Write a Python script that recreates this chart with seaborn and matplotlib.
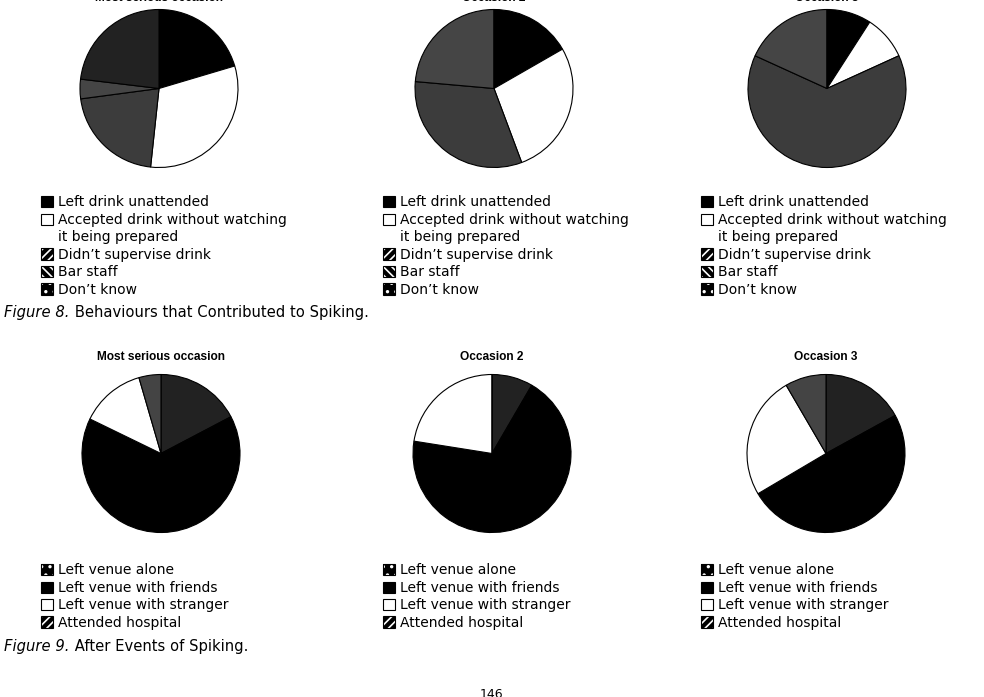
import numpy as np
import seaborn as sns
import matplotlib
matplotlib.use("Agg")
import matplotlib.pyplot as plt
from matplotlib.patches import Patch

sns.set_theme(style = "white")
plt.rcParams["font.family"] = ["DejaVu Sans"]
plt.rcParams["text.color"] = "black"
plt.rcParams["hatch.linewidth"] = 1.2

W, H = 984, 697

# Figure 8: behaviours that contributed to spiking (percent of cases)
contrib_labels = ["Left drink unattended",
                  "Accepted drink without watching\nit being prepared",
                  "Didn\u2019t supervise drink", "Bar staff", "Don\u2019t know"]
contrib_most_serious = [20.4, 31.3, 21.2, 4.0, 23.1]
contrib_occasion2 = [16.7, 27.6, 32.1, 23.6, 0.0]
contrib_occasion3 = [9.1, 9.1, 63.6, 18.2, 0.0]

# Figure 9: after events of spiking (percent of cases)
after_labels = ["Left venue alone", "Left venue with friends",
                "Left venue with stranger", "Attended hospital"]
after_most_serious = [17.3, 64.9, 13.3, 4.5]
after_occasion2 = [8.4, 69.1, 22.5, 0.0]
after_occasion3 = [17.0, 49.5, 25.1, 8.4]

titles = ["Most serious occasion", "Occasion 2", "Occasion 3"]

contrib_colors = ["#000000", "#ffffff", "#3c3c3c", "#454545", "#222222"]
after_colors = ["#222222", "#000000", "#ffffff", "#444444"]

# legend swatches: (hatch, face)
contrib_swatches = [(None, "black"), (None, "white"), ("////", "black"),
                    ("\\\\\\\\", "black"), ("..", "black")]
after_swatches = [("..", "black"), (None, "black"), (None, "white"), ("////", "black")]

fig = plt.figure(figsize = (W / 100, H / 100), dpi = 100)


def pie_axes(cx, cy, r):
    return fig.add_axes([(cx - r) / W, 1 - (cy + r) / H, 2 * r / W, 2 * r / H])


def swatch(hatch, face):
    if hatch is None:
        return Patch(facecolor = face, edgecolor = "black", linewidth = 0.8)
    return (Patch(facecolor = face, edgecolor = "white", hatch = hatch, linewidth = 0),
            Patch(facecolor = "none", edgecolor = "black", linewidth = 0.8))


def legend_entries(labels, swatches):
    # wrapped labels: swatch sits on the first line only
    handles, texts = [], []
    for lab, (h, f) in zip(labels, swatches):
        lines = lab.split("\n")
        handles.append(swatch(h, f))
        texts.append(lines[0])
        for extra in lines[1:]:
            handles.append(Patch(facecolor = "none", edgecolor = "none"))
            texts.append(extra)
    return handles, texts


def draw_row(values_list, colors, centers, cy, title_off, labels, swatches, legend_x, legend_y):
    r = 79
    for vals, title, cx in zip(values_list, titles, centers):
        ax = pie_axes(cx, cy, r)
        ax.pie(vals, colors = colors, startangle = 90, counterclock = False,
               radius = 1, wedgeprops = dict(edgecolor = "black", linewidth = 0.8, clip_on = False))
        ax.set_xlim(-1, 1)
        ax.set_ylim(-1, 1)
        ax.set_axis_off()
        ax.text(0, title_off, title, ha = "center", va = "center", fontsize = 8.6,
                fontweight = "bold", family = ["Liberation Sans"], clip_on = False)
    handles, texts = legend_entries(labels, swatches)
    for lx in legend_x:
        fig.legend(handles, texts, loc = "upper left",
                   bbox_to_anchor = (lx / W, 1 - legend_y / H),
                   frameon = False, fontsize = 10, handlelength = 0.88, handleheight = 0.88,
                   handletextpad = 0.35, labelspacing = 0.25, borderpad = 0, borderaxespad = 0)


draw_row([contrib_most_serious, contrib_occasion2, contrib_occasion3], contrib_colors,
         [159, 494, 827], 88.5, 1.14, contrib_labels, contrib_swatches, [41, 383, 701], 195.5)
draw_row([after_most_serious, after_occasion2, after_occasion3], after_colors,
         [161, 492, 826], 453.5, 1.22, after_labels, after_swatches, [41, 383, 701], 563.5)

renderer = fig.canvas.get_renderer()


def caption(y, num, rest):
    t = fig.text(4 / W, 1 - y / H, "Figure %d." % num, style = "italic",
                 fontsize = 10.6, va = "center", ha = "left")
    bb = t.get_window_extent(renderer)
    fig.text(bb.x1 / W, 1 - y / H, " " + rest, fontsize = 10.6, va = "center", ha = "left")


caption(313, 8, "Behaviours that Contributed to Spiking.")
caption(647, 9, "After Events of Spiking.")
fig.text(491 / W, 1 - 694 / H, "146", fontsize = 9, ha = "center", va = "center")

fig.savefig("out.png", dpi = 100)
